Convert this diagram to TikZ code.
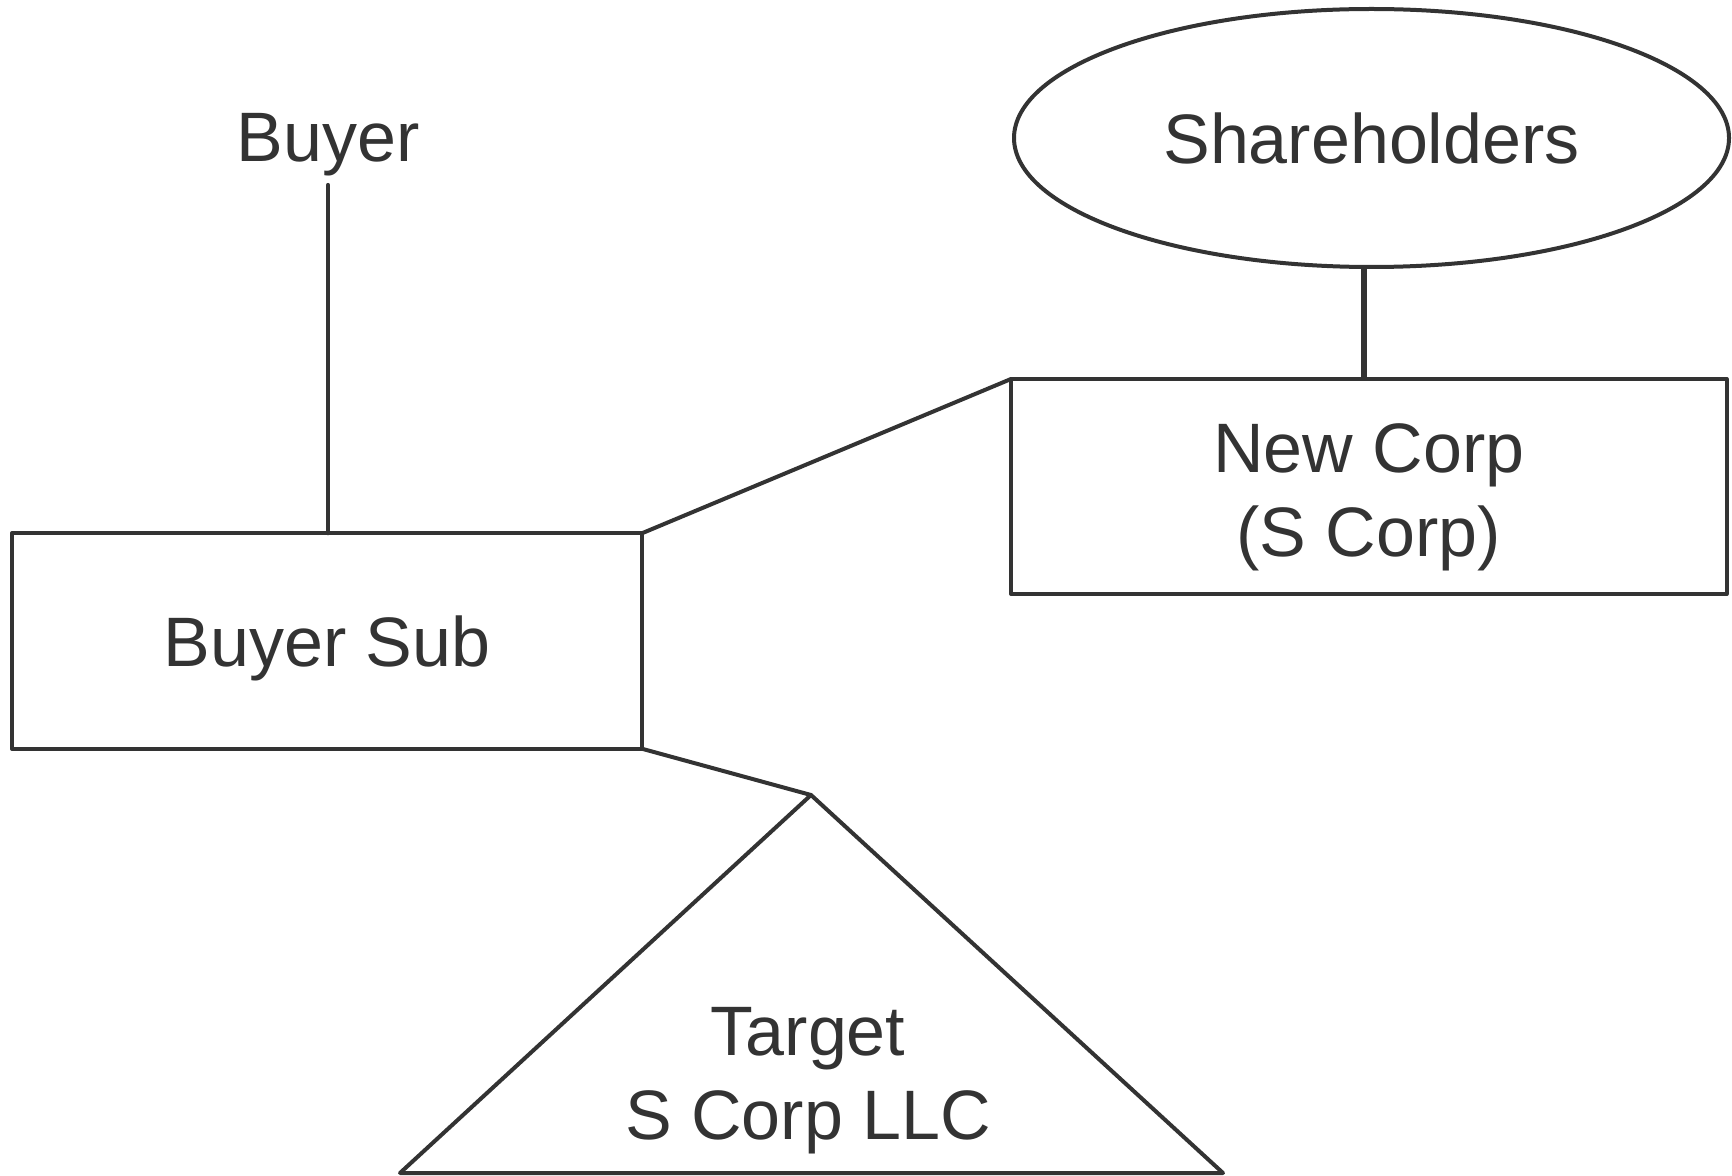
\documentclass[tikz,border=0pt]{standalone}
\usepackage{fontspec}
\setmainfont{Liberation Sans}
\usetikzlibrary{shapes.geometric}
\definecolor{ink}{HTML}{333333}
\begin{document}
\begin{tikzpicture}[x=0.5pt,y=-0.5pt,
  every node/.style={font=\fontsize{35}{42}\selectfont, text=ink},
  link/.style={draw=ink, line width=2pt, line cap=round},
  boldlink/.style={draw=ink, line width=2.6pt},
  entity/.style={draw=ink, line width=2pt, line join=round, rectangle,
    inner sep=0pt, outer sep=0pt, align=center},
  owners/.style={draw=ink, line width=2pt, ellipse, inner sep=0pt, outer sep=0pt},
  plain/.style={inner sep=4pt, align=center}]
\useasboundingbox (0,0) rectangle (1732,1176);

% entities
\node[plain, anchor=base] (buyer) at (328,162) {Buyer};
\node[entity, text depth=0pt, minimum width=315pt, minimum height=107.75pt] (bsub) at (327,641) {Buyer Sub};
\node[entity, minimum width=357.75pt, minimum height=107.5pt] (ncorp) at (1368.75,486.5) {\rule{0pt}{35pt}New Corp\\(S Corp)};
\node[owners, minimum width=357.5pt, minimum height=129pt] (shr) at (1371.5,138) {Shareholders};

% target drawn as a triangle
\coordinate (apex) at (811,795);
\coordinate (baseL) at (400,1173);
\coordinate (baseR) at (1223,1173);
\draw[link, line join=round] (apex) -- (baseL) -- (baseR) -- cycle;
\node[plain] (target) at (808,1081) {Target\\S Corp LLC};

% ownership links
\draw[link] (buyer.south) -- (bsub.north -| buyer.south);
\draw[boldlink] ([xshift=-3.75pt]shr.south) -- ([xshift=-3.75pt]shr.south |- ncorp.north);
\draw[link] (bsub.north east) -- (ncorp.north west);
\draw[link] (bsub.south east) -- (apex);
\end{tikzpicture}
\end{document}
